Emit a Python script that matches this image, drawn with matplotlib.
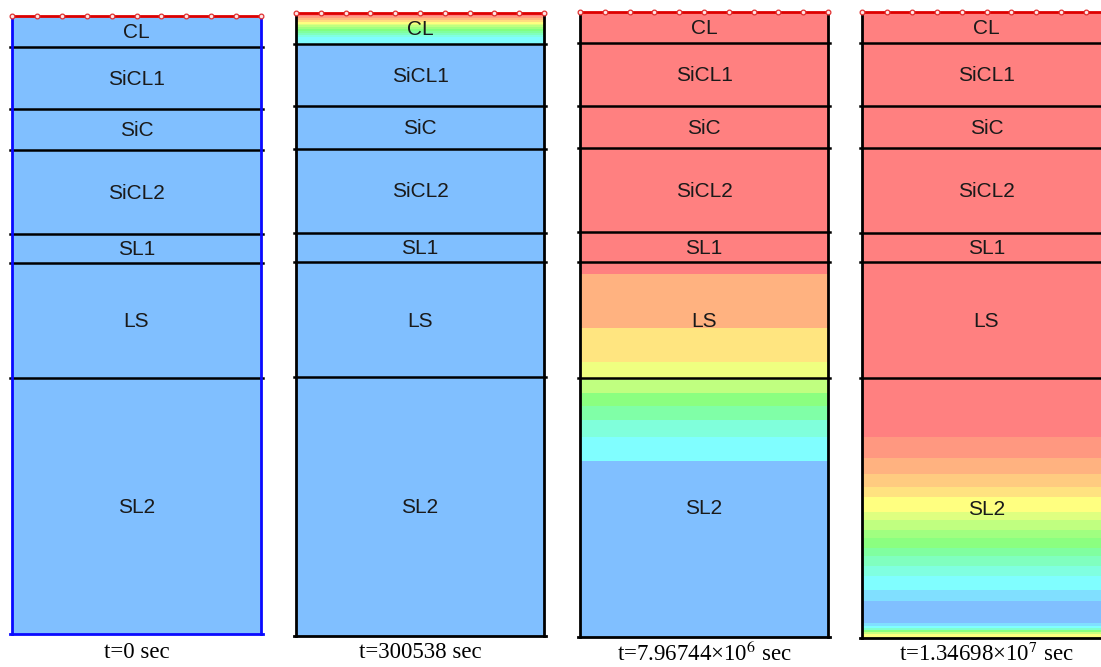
import numpy as np
import matplotlib
matplotlib.use("Agg")
import matplotlib.pyplot as plt
from matplotlib.colors import ListedColormap, Normalize, hsv_to_rgb

# Soil layers and their boundaries (depth, cm)
layer_names = ["CL", "SiCL1", "SiC", "SiCL2", "SL1", "LS", "SL2"]
layer_bounds = [0, 10, 30, 43.5, 70.5, 80, 117, 200]

times = ["t=0 sec", "t=300538 sec",
         r"t=7.96744×10$^{6}$ sec", r"t=1.34698×10$^{7}$ sec"]

# Relative saturation profiles: band edges (depth, cm) and value in each band
p1_edges = [0, 200]
p1_vals = [0.0]

p2_edges = [0, 1.0, 1.6, 2.2, 2.8, 3.4, 4.0, 4.6, 5.2, 5.8, 6.4, 7.0, 7.8, 10.0, 200]
p2_vals = [1.0, 0.93, 0.86, 0.79, 0.71, 0.64, 0.57, 0.5, 0.43, 0.36, 0.29, 0.21, 0.14, 0.0]

p3_edges = [0, 83.8, 101.1, 112, 117, 121.9, 126, 130.6, 136, 143.7, 200]
p3_vals = [1.0, 0.886, 0.771, 0.676, 0.571, 0.457, 0.343, 0.224, 0.143, 0.0]

p4_edges = [0, 135.8, 142.5, 147.6, 151.8, 155, 159.7, 162.3, 165.5, 168, 171.2,
            173.8, 177, 180.2, 184.7, 188.2, 195.2, 196.2, 196.8, 197.4, 198.1,
            198.7, 200]
p4_vals = [1.0, 0.943, 0.886, 0.829, 0.78, 0.714, 0.643, 0.571, 0.5, 0.457,
           0.357, 0.286, 0.214, 0.143, 0.071, 0.0, 0.071, 0.143, 0.25, 0.45,
           0.6, 0.71]

profiles = [(p1_edges, p1_vals), (p2_edges, p2_vals),
            (p3_edges, p3_vals), (p4_edges, p4_vals)]

# Pale rainbow: blue (dry) -> red (saturated)
v = np.linspace(0, 1, 256)
hsv = np.column_stack([(210 / 360) * (1 - v), np.full_like(v, 0.5), np.ones_like(v)])
cmap = ListedColormap(hsv_to_rgb(hsv))
norm = Normalize(0, 1)

W, H = 1101, 667
fig = plt.figure(figsize=(W / 100, H / 100), dpi=100)

# panel boxes in pixels: left, right, top, bottom
boxes = [(12, 261, 16, 634), (296, 544, 13, 636),
         (580, 828, 12, 637), (862, 1111, 12, 638)]
edge_colors = ["#0a0aff", "black", "black", "black"]
title_y = [653, 653, 654, 654]

for i, ((edges, vals), (l, r, t, b)) in enumerate(zip(profiles, boxes)):
    ax = fig.add_axes([l / W, (H - b) / H, (r - l) / W, (b - t) / H])
    C = np.array(vals).reshape(-1, 1)
    ax.pcolormesh([0, 1], edges, C, cmap=cmap, norm=norm, shading="flat")
    ax.set_xlim(0, 1)
    ax.set_ylim(200, 0)
    ax.axis("off")

    # layer interfaces
    for d in layer_bounds[1:-1]:
        ax.plot([-0.008, 1.008], [d, d], color="black", lw=1.8,
                clip_on=False, zorder=3)
    # label at each layer's centre
    for name, d0, d1 in zip(layer_names, layer_bounds[:-1], layer_bounds[1:]):
        ax.text(0.5, (d0 + d1) / 2 + 0.4, name, ha="center", va="center",
                fontsize=15, color="#1a1a1a", family="Liberation Sans",
                zorder=4)

    ec = edge_colors[i]
    ax.plot([0, 0], [0, 200], color=ec, lw=2.0, clip_on=False, zorder=3)
    ax.plot([1, 1], [0, 200], color=ec, lw=2.0, clip_on=False, zorder=3)
    ax.plot([-0.008, 1.008], [200, 200], color=ec, lw=2.0, clip_on=False, zorder=3)
    # atmospheric boundary on top with its nodes
    ax.plot(np.linspace(0, 1, 11), np.zeros(11), color="#dd0000", lw=2.0,
            marker="o", ms=3.4, mfc="#ffe6e6", mec="#e03030", mew=0.9,
            clip_on=False, zorder=5)

    fig.text(((l + r) / 2) / W, (H - title_y[i]) / H, times[i],
             ha="center", va="center", fontsize=16.5,
             family="Liberation Serif", math_fontfamily="stix")

fig.savefig("out.png", dpi=100, facecolor="white")
